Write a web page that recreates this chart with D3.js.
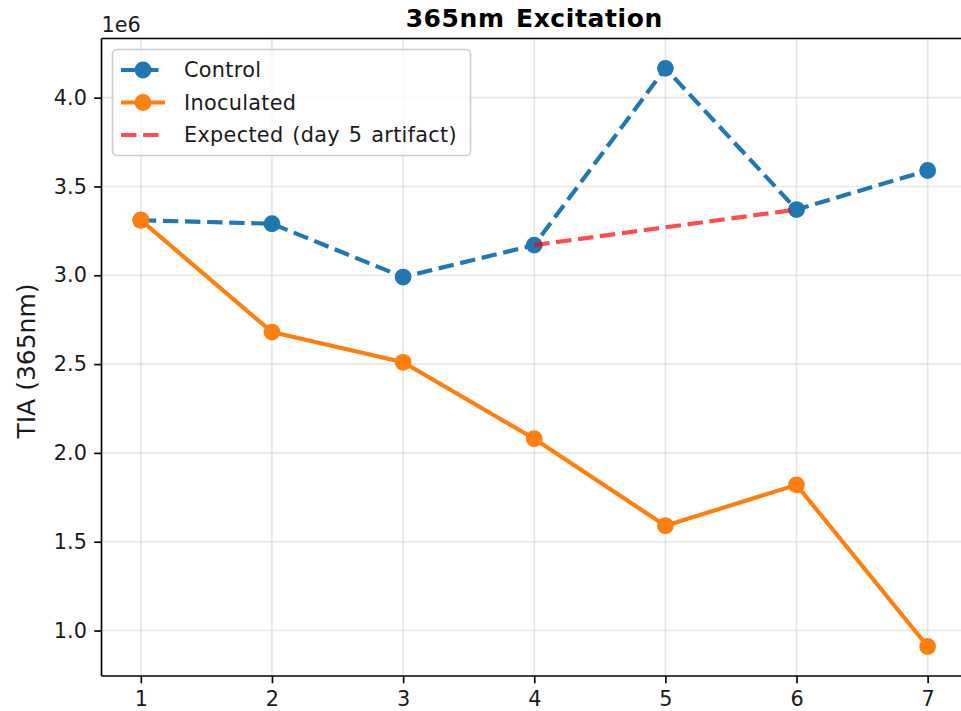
<!DOCTYPE html>
<html>
<head>
<meta charset="utf-8">
<script src="https://cdn.jsdelivr.net/npm/d3@7"></script>
<style>
  html, body { margin: 0; padding: 0; background: #fff; }
  svg { display: block; }
  text { font-family: "DejaVu Sans", sans-serif; }
</style>
</head>
<body>
<svg id="chart" width="961" height="711"></svg>
<script>
// ---- data ----
const days = [1, 2, 3, 4, 5, 6, 7];
const controlValues = [3.31e6, 3.29e6, 2.99e6, 3.17e6, 4.165e6, 3.37e6, 3.59e6];
const inoculatedValues = [3.31e6, 2.68e6, 2.51e6, 2.08e6, 1.59e6, 1.82e6, 0.91e6];
const expectedDays = [4, 6];
const expectedValues = [3.17e6, 3.37e6];
const xTicks = [1, 2, 3, 4, 5, 6, 7];
const yTicks = [1.0e6, 1.5e6, 2.0e6, 2.5e6, 3.0e6, 3.5e6, 4.0e6];
const legendLabels = ["Control", "Inoculated", "Expected (day 5 artifact)"];
const titleText = "365nm Excitation";
const yLabelText = "TIA (365nm)";

(function () {
// ---- layout ----
const pL = 101.5, pR = 967, pT = 38.5, pB = 676;
const FS = 20.8;
const lw = 4.17;
const dash = "15.4,6.7";
const mr = 8.4;
const C_BLUE = "#1f77b4", C_ORANGE = "#ff7f0e", C_RED = "#ff0000";

const svg = d3.select("#chart");

const x = d3.scaleLinear().domain([0.7, 7.3]).range([pL, pR]);
const y = d3.scaleLinear().domain([0.744e6, 4.333e6]).range([pB, pT]);

// grid
const grid = svg.append("g");
grid.selectAll("line.vg").data(xTicks).join("line")
  .attr("x1", d => x(d)).attr("x2", d => x(d))
  .attr("y1", pT).attr("y2", pB)
  .attr("stroke", "#b0b0b0").attr("stroke-opacity", 0.3).attr("stroke-width", 1.67);
grid.selectAll("line.hg").data(yTicks).join("line")
  .attr("x1", pL).attr("x2", pR)
  .attr("y1", d => y(d)).attr("y2", d => y(d))
  .attr("stroke", "#b0b0b0").attr("stroke-opacity", 0.3).attr("stroke-width", 1.67);

// axes
const xAxis = d3.axisBottom(x).tickValues(xTicks).tickSize(7.3).tickPadding(7.3)
  .tickFormat(d3.format("d"));
const yAxis = d3.axisLeft(y).tickValues(yTicks).tickSize(7.3).tickPadding(7.3)
  .tickFormat(d => (d / 1e6).toFixed(1));

const gx = svg.append("g").attr("transform", `translate(0,${pB})`).call(xAxis);
const gy = svg.append("g").attr("transform", `translate(${pL},0)`).call(yAxis);
[gx, gy].forEach(g => {
  g.select(".domain").remove();
  g.selectAll(".tick line").attr("stroke", "#000").attr("stroke-width", 1.67);
  g.selectAll(".tick text").attr("fill", "#1a1a1a")
    .style("font-size", FS + "px").style("font-family", "DejaVu Sans");
});
gx.selectAll(".tick text").attr("dy", "0.76em");

// data lines
const lineGen = d3.line().x(d => x(d[0])).y(d => y(d[1]));
const controlPts = days.map((d, i) => [d, controlValues[i]]);
const inocPts = days.map((d, i) => [d, inoculatedValues[i]]);
const expPts = expectedDays.map((d, i) => [d, expectedValues[i]]);

const plot = svg.append("g");
plot.append("path").datum(controlPts).attr("d", lineGen)
  .attr("fill", "none").attr("stroke", C_BLUE).attr("stroke-width", lw)
  .attr("stroke-dasharray", dash);
plot.selectAll("circle.c").data(controlPts).join("circle").attr("class", "c")
  .attr("cx", d => x(d[0])).attr("cy", d => y(d[1])).attr("r", mr).attr("fill", C_BLUE);

plot.append("path").datum(inocPts).attr("d", lineGen)
  .attr("fill", "none").attr("stroke", C_ORANGE).attr("stroke-width", lw);
plot.selectAll("circle.o").data(inocPts).join("circle").attr("class", "o")
  .attr("cx", d => x(d[0])).attr("cy", d => y(d[1])).attr("r", mr).attr("fill", C_ORANGE);

plot.append("path").datum(expPts).attr("d", lineGen)
  .attr("fill", "none").attr("stroke", C_RED).attr("stroke-opacity", 0.7)
  .attr("stroke-width", lw).attr("stroke-dasharray", dash);

// spines
const sp = svg.append("g").attr("stroke", "#000").attr("stroke-width", 1.67);
sp.append("line").attr("x1", pL).attr("x2", pL).attr("y1", pT).attr("y2", pB);
sp.append("line").attr("x1", pL).attr("x2", pR).attr("y1", pT).attr("y2", pT);
sp.append("line").attr("x1", pL).attr("x2", pR).attr("y1", pB).attr("y2", pB);
sp.append("line").attr("x1", pR).attr("x2", pR).attr("y1", pT).attr("y2", pB);

// title
svg.append("text").attr("x", (pL + pR) / 2).attr("y", 27)
  .attr("text-anchor", "middle").style("font-size", "25px").style("font-weight", "bold")
  .style("letter-spacing", "0.6px").style("word-spacing", "2px")
  .attr("fill", "#000").text(titleText);

// offset text
svg.append("text").attr("x", pL).attr("y", 32)
  .style("font-size", FS + "px").attr("fill", "#1a1a1a").text("1e6");

// y label
svg.append("text").attr("transform", `translate(35,361) rotate(-90)`)
  .attr("text-anchor", "middle").style("font-size", "25px").attr("fill", "#1a1a1a")
  .text(yLabelText);

// legend
const lg = svg.append("g");
const lx = 112.5, ly = 49.5, lwid = 358, lht = 106;
lg.append("rect").attr("x", lx).attr("y", ly).attr("width", lwid).attr("height", lht)
  .attr("rx", 4.2).attr("fill", "#fff").attr("fill-opacity", 0.8)
  .attr("stroke", "#cccccc").attr("stroke-width", 1.6);
const rowY = [70, 102.5, 135];
const hx1 = 121, hx2 = 165, hmid = (hx1 + hx2) / 2;
const legendStyles = [
  { color: C_BLUE, dash: dash, marker: true, op: 1 },
  { color: C_ORANGE, dash: null, marker: true, op: 1 },
  { color: C_RED, dash: dash, marker: false, op: 0.7 }
];
legendLabels.forEach((lab, i) => {
  const s = legendStyles[i];
  const ln = lg.append("line").attr("x1", hx1).attr("x2", hx2)
    .attr("y1", rowY[i]).attr("y2", rowY[i])
    .attr("stroke", s.color).attr("stroke-width", lw).attr("stroke-opacity", s.op);
  if (s.dash) ln.attr("stroke-dasharray", s.dash);
  if (s.marker) lg.append("circle").attr("cx", hmid).attr("cy", rowY[i]).attr("r", mr).attr("fill", s.color);
  lg.append("text").attr("x", 184).attr("y", rowY[i]).attr("dy", "0.36em")
    .style("font-size", FS + "px").style("letter-spacing", "0.3px").style("word-spacing", "2px")
    .attr("fill", "#1a1a1a").text(lab);
});
})();
</script>
</body>
</html>
